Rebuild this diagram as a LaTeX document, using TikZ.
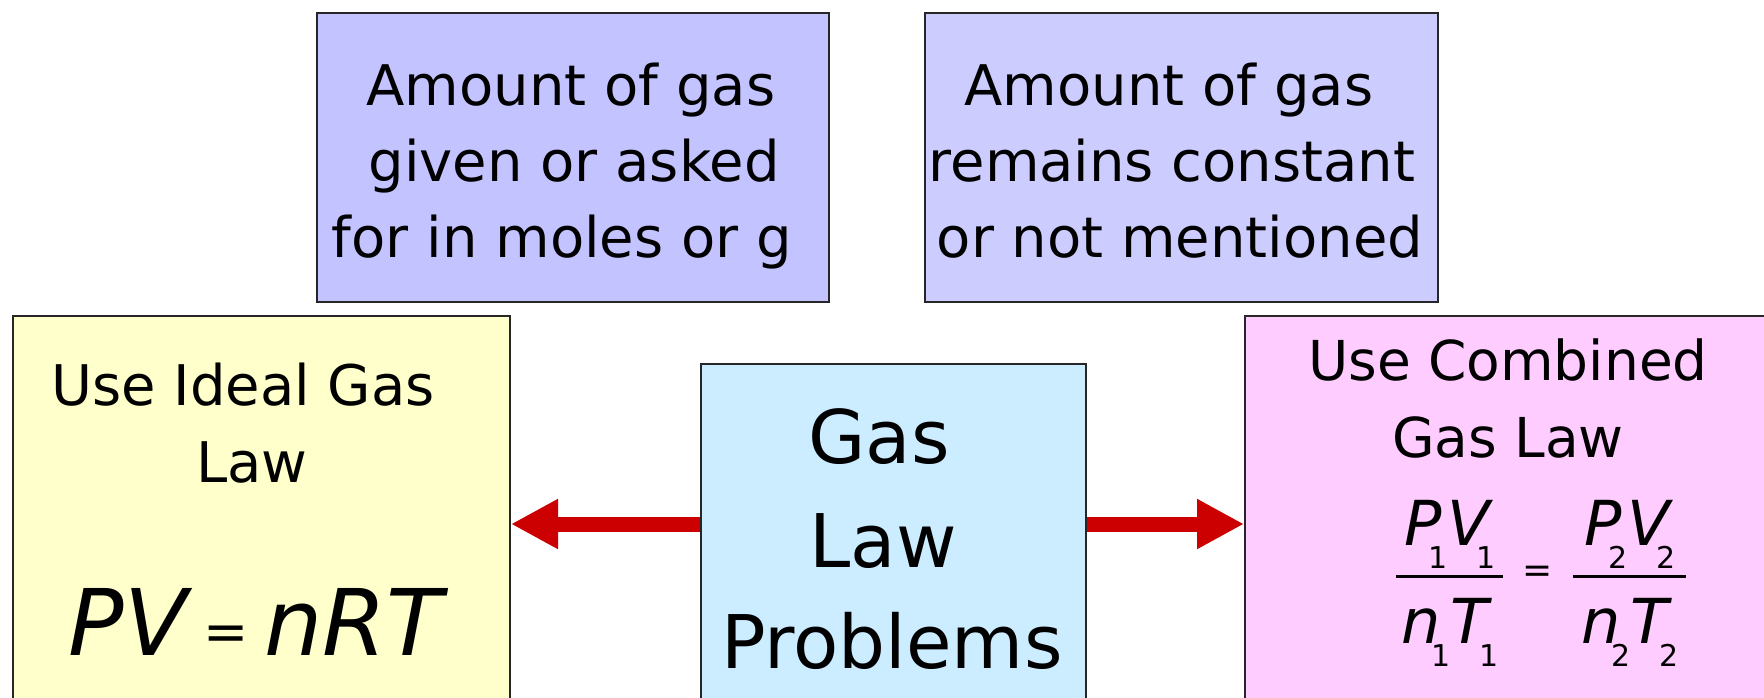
\documentclass[tikz,border=0pt]{standalone}
\usepackage{fontspec}
\setmainfont{DejaVu Sans}
\usetikzlibrary{arrows.meta}
\definecolor{boxA}{HTML}{C3C3FF}
\definecolor{boxB}{HTML}{CCCCFF}
\definecolor{idealc}{HTML}{FFFFCC}
\definecolor{midc}{HTML}{CCECFF}
\definecolor{combc}{HTML}{FFCCFF}
\definecolor{arrowred}{HTML}{CC0000}
\newcommand\lowsub[2][11.5pt]{\raisebox{-#1}{\fontsize{15pt}{16pt}\selectfont #2}}
\begin{document}
\begin{tikzpicture}[x=0.5pt,y=-0.5pt,
  box/.style={draw=black!85, line width=1pt, anchor=north west, inner sep=0pt},
  txt/.style={anchor=base, inner sep=0pt, font=\fontsize{28pt}{34pt}\selectfont},
  bigtxt/.style={anchor=base, inner sep=0pt, font=\fontsize{37pt}{44pt}\selectfont},
  frm/.style={anchor=base, inner sep=0pt, font=\fontsize{31pt}{36pt}\selectfont},
  redarrow/.style={draw=arrowred, line width=7.5pt, -{Triangle[length=23.5pt,width=23.5pt]}}]
\useasboundingbox (0,0) rectangle (1764,697);
\clip (0,0) rectangle (1764,697);
% boxes
\node[box, fill=boxA, minimum width=256pt, minimum height=144.5pt] (amtA) at (316,12) {};
\node[box, fill=boxB, minimum width=256.5pt, minimum height=144.5pt] (amtB) at (924,12) {};
\node[box, fill=idealc, minimum width=248.5pt, minimum height=222.5pt] (ideal) at (12,315) {};
\node[box, fill=midc, minimum width=192.5pt, minimum height=198.5pt] (gaslaw) at (700,363) {};
\node[box, fill=combc, minimum width=268pt, minimum height=222.5pt] (combined) at (1244,315) {};
% arrows
\coordinate (ay) at (0,524);
\draw[redarrow] (gaslaw.west |- ay) -- (ideal.east |- ay);
\draw[redarrow] (gaslaw.east |- ay) -- (combined.west |- ay);
% top left box text
\node[txt] (a1) at (571,105) {Amount of gas};
\node[txt] (a2) at (574,181) {given or asked};
\node[txt] (a3) at (562,257) {for in moles or g};
% top right box text
\node[txt] (b1) at (1169,105) {Amount of gas};
\node[txt] (b2) at (1172,181) {remains constant};
\node[txt] (b3) at (1180,257) {or not mentioned};
% middle
\node[bigtxt] (m1) at (879,463) {Gas};
\node[bigtxt] (m2) at (883,567) {Law};
\node[bigtxt] (m3) at (892,668) {Problems};
% ideal
\node[txt] (i1) at (243,405) {Use Ideal Gas};
\node[txt] (i2) at (252,482) {Law};
\node[anchor=base, inner sep=0pt] (i3) at (256,655) {\fontsize{46pt}{50pt}\selectfont\itshape PV\hspace{8pt}\raisebox{2.5pt}{\upshape\fontsize{27pt}{30pt}\selectfont=}\hspace{8pt}nRT};
% combined
\node[txt, font=\fontsize{27.5pt}{33pt}\selectfont] (c1) at (1508,380) {Use Combined};
\node[txt, font=\fontsize{27.5pt}{33pt}\selectfont] (c2) at (1508,457) {Gas Law};
\node[frm] (n1) at (1450,545) {{\itshape P}\kern-6.5pt\lowsub{1}{\itshape V}\kern-6.5pt\lowsub{1}};
\node[frm] (d1) at (1450,643) {{\itshape n}\kern-4.5pt\lowsub{1}{\itshape T}\kern-4.5pt\lowsub{1}};
\node[frm] (n2) at (1630,545) {{\itshape P}\kern-6.5pt\lowsub{2}{\itshape V}\kern-6.5pt\lowsub{2}};
\node[frm] (d2) at (1630,643) {{\itshape n}\kern-4.5pt\lowsub{2}{\itshape T}\kern-4.5pt\lowsub{2}};
\node[inner sep=0pt, font=\fontsize{18pt}{20pt}\selectfont] (eq) at (1538,574) {=};
\draw[line width=1.5pt] (1396,576) -- (1503,576);
\draw[line width=1.5pt] (1573,576) -- (1686,576);
\end{tikzpicture}
\end{document}
